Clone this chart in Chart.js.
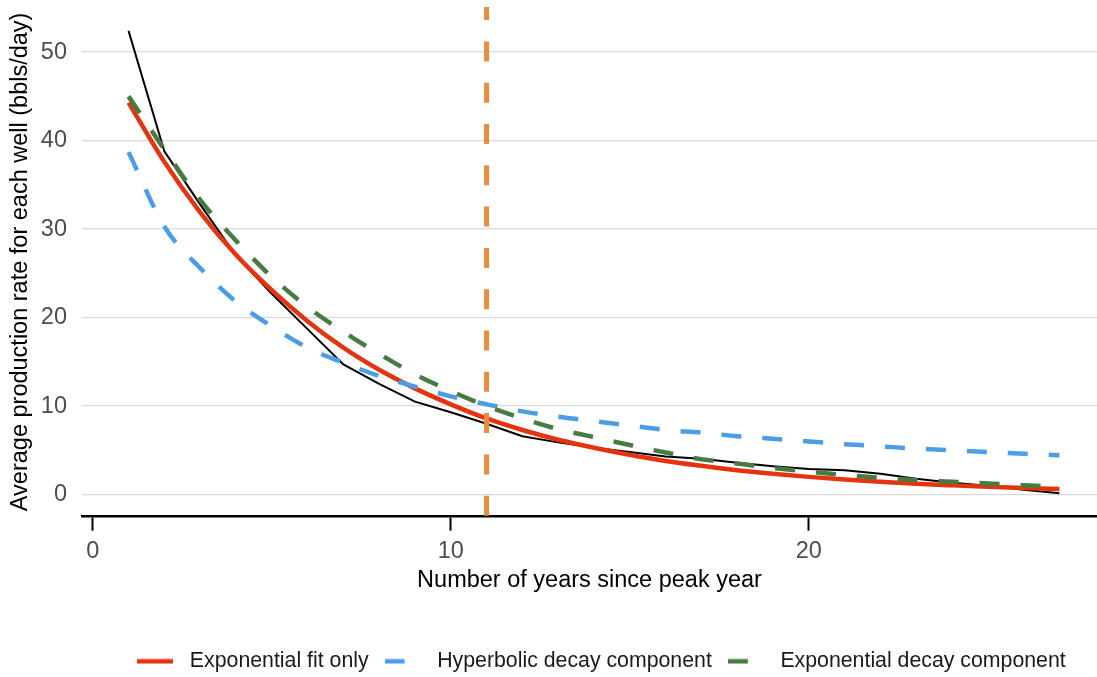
<!DOCTYPE html>
<html>
<head>
<meta charset="utf-8">
<script src="https://cdn.jsdelivr.net/npm/chart.js@4.4.1/dist/chart.umd.min.js"></script>
<style>
  html, body { margin: 0; padding: 0; background: #fff; }
  #wrap { width: 1097px; height: 677px; position: relative; }
</style>
</head>
<body>
<div id="wrap"><canvas id="decline"></canvas></div>
<script>
// years since peak, one point per year
var years = [1, 2, 3, 4, 5, 6, 7, 8, 9, 10, 11, 12, 13, 14, 15, 16, 17, 18, 19, 20, 21, 22, 23, 24, 25, 26, 27]
// observed average rate (black line)
var observed = [52.4, 38.8, 32.8, 27.0, 22.7, 18.7, 14.7, 12.5, 10.5, 9.3, 8.0, 6.6, 5.9, 5.3, 4.8, 4.3, 4.05, 3.6, 3.2, 2.9, 2.75, 2.35, 1.8, 1.35, 1.0, 0.55, 0.15]
var expFitOnly = [44.3, 37.6, 31.9, 27.1, 23.1, 19.6, 16.6, 14.1, 12.0, 10.2, 8.6, 7.3, 6.2, 5.3, 4.5, 3.8, 3.25, 2.75, 2.35, 2.0, 1.7, 1.45, 1.22, 1.04, 0.88, 0.75, 0.63]
var hyperbolic = [38.7, 30.3, 25.6, 21.8, 19.0, 16.6, 14.9, 13.4, 12.2, 11.1, 10.2, 9.4, 8.8, 8.3, 7.8, 7.3, 7.0, 6.6, 6.3, 6.0, 5.7, 5.45, 5.2, 5.0, 4.8, 4.6, 4.45]
var expDecay = [45.0, 39.0, 33.3, 28.7, 24.6, 21.2, 18.4, 15.9, 13.6, 11.7, 10.0, 8.6, 7.4, 6.5, 5.6, 4.75, 4.0, 3.5, 3.0, 2.6, 2.2, 1.9, 1.65, 1.45, 1.25, 1.05, 0.9]
var cutoffYear = 11
var xTicks = [0, 10, 20]
var yTicks = [0, 10, 20, 30, 40, 50]

function pts(vals) {
  return years.map(function (x, i) { return { x: x, y: vals[i] } })
}

Chart.defaults.font.family = "'Liberation Sans', Arial, sans-serif"

// little legend key: solid 36px line, or just the first dash for dashed series
function legendKey(color, dashed) {
  var c = document.createElement('canvas')
  c.width = 36
  c.height = 6
  var g = c.getContext('2d')
  g.fillStyle = color
  g.fillRect(0, 0.75, dashed ? 20 : 36, 4.5)
  return c
}

// dashed vertical marker at the cutoff year
var cutoffLine = {
  id: 'cutoffLine',
  afterDatasetsDraw(chart) {
    var ctx = chart.ctx, area = chart.chartArea
    var px = chart.scales.x.getPixelForValue(cutoffYear)
    ctx.save()
    ctx.strokeStyle = '#EA8C3C'
    ctx.lineWidth = 5
    ctx.setLineDash([20, 21.3])
    ctx.beginPath()
    ctx.moveTo(px, area.bottom - 1)
    ctx.lineTo(px, area.top)
    ctx.stroke()
    ctx.restore()
  }
}

// legend sits a little right of the plot centre in the original
var legendShift = {
  id: 'legendShift',
  afterLayout(chart) {
    chart.legend.left += 12
    chart.legend.right += 12
  }
}

var ctx = document.getElementById('decline')
var chart = new Chart(ctx, {
  type: 'line',
  data: {
    datasets: [{
      label: 'Observed',
      data: pts(observed),
      borderColor: '#000000',
      borderWidth: 2,
      order: 4
    }, {
      label: 'Exponential fit only',
      data: pts(expFitOnly),
      borderColor: '#E6330F',
      borderWidth: 4.5,
      cubicInterpolationMode: 'monotone',
      order: 3
    }, {
      label: 'Hyperbolic decay component',
      data: pts(hyperbolic),
      borderColor: '#4C9DE8',
      borderWidth: 4.5,
      borderDash: [20, 21],
      cubicInterpolationMode: 'monotone',
      order: 2
    }, {
      label: 'Exponential decay component',
      data: pts(expDecay),
      borderColor: '#467C42',
      borderWidth: 4.5,
      borderDash: [20, 21],
      cubicInterpolationMode: 'monotone',
      order: 1
    }]
  },
  options: {
    responsive: true,
    maintainAspectRatio: false,
    animation: false,
    elements: { point: { radius: 0 } },
    layout: { padding: { top: 7, left: 0, right: 0, bottom: -5 } },
    plugins: {
      tooltip: { enabled: false },
      legend: {
        position: 'bottom',
        fullSize: false,
        labels: {
          usePointStyle: true,
          pointStyleWidth: 36,
          padding: 16,
          color: '#1a1a1a',
          font: { size: 21.3 },
          generateLabels(chart) {
            var ds = chart.data.datasets
            var items = Chart.defaults.plugins.legend.labels.generateLabels(chart)
            return items
              .filter(function (it) { return it.datasetIndex !== 0 })
              .sort(function (a, b) { return a.datasetIndex - b.datasetIndex })
              .map(function (it) {
                var d = ds[it.datasetIndex]
                it.text = ' ' + it.text
                it.pointStyle = legendKey(d.borderColor, !!d.borderDash)
                return it
              })
          }
        }
      }
    },
    scales: {
      x: {
        type: 'linear',
        min: -0.3,
        max: 28.05,
        afterBuildTicks(s) { s.ticks = xTicks.map(function (v) { return { value: v } }) },
        afterFit(s) { s.height = 118; s.paddingLeft = 0; s.paddingRight = 0 },
        grid: { drawOnChartArea: false, drawTicks: true, tickLength: 14, tickWidth: 2, tickColor: '#000' },
        border: { display: true, color: '#000', width: 2.5 },
        ticks: { color: '#4D4D4D', font: { size: 23.5 }, padding: 7, maxRotation: 0 },
        title: { display: true, text: 'Number of years since peak year', color: '#000', font: { size: 23.5 }, padding: { top: 0, bottom: 40 } }
      },
      y: {
        min: -2.5,
        max: 55.1,
        afterBuildTicks(s) { s.ticks = yTicks.map(function (v) { return { value: v } }) },
        afterFit(s) { s.width = 82; s.paddingTop = 0; s.paddingBottom = 0 },
        grid: { color: '#DADADA', lineWidth: 1.3, drawTicks: false },
        border: { display: false },
        ticks: { color: '#4D4D4D', font: { size: 23.5 }, padding: 15 },
        title: { display: true, text: 'Average production rate for each well (bbls/day)', color: '#000', font: { size: 23.5 }, padding: { top: 6.5, bottom: 0 } }
      }
    }
  },
  plugins: [cutoffLine, legendShift]
})
</script>
</body>
</html>
